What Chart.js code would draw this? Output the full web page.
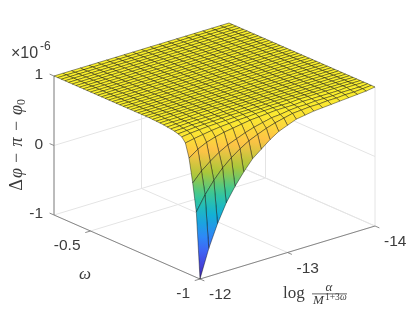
<!DOCTYPE html>
<html>
<head>
<meta charset="utf-8">
<style>
html, body { margin: 0; padding: 0; background: #fff; }
canvas { display: block; }
</style>
<script src="https://cdn.jsdelivr.net/npm/chart.js@4"></script>
</head>
<body>
<canvas id="surfaceChart" width="415" height="312"></canvas>
<script>
var omegaTicks = [-1, -0.5];
var logTicks = [-12, -13, -14];
var zTicks = [-1, 0, 1];

var omegaLimits = [-1, -0.3333];
var logLimits = [-12, -14];
var zLimits = [-1, 1];

var omegaGrid = [-1, -0.9833, -0.9667, -0.95, -0.9333, -0.9167, -0.9, -0.8833, -0.8667, -0.85, -0.8333, -0.8167, -0.8, -0.7833,
  -0.7667, -0.75, -0.7333, -0.7167, -0.7, -0.6833, -0.6667, -0.65, -0.6333, -0.6167, -0.6, -0.5833, -0.5667, -0.55, -0.5333,
  -0.5167, -0.5, -0.4833, -0.4667, -0.45, -0.4333, -0.4167, -0.4, -0.3833, -0.3667, -0.35, -0.3333];
var logGrid = [-12, -12.1, -12.2, -12.3, -12.4, -12.5, -12.6, -12.7, -12.8, -12.9, -13,
  -13.1, -13.2, -13.3, -13.4, -13.5, -13.6, -13.7, -13.8, -13.9, -14];

var plateau = [1, 1, 1, 1, 1, 1, 1, 1, 1, 1, 1, 1, 1, 1, 1, 1, 1, 1, 1, 1, 1];
// one row per omegaGrid value, one column per logGrid value
var zRows = [
  [-1, -0.6, -0.28, -0.02, 0.18, 0.35, 0.5, 0.6, 0.7, 0.78, 0.83, 0.88, 0.9, 0.92, 0.93, 0.94, 0.95, 0.96, 0.97, 0.98, 1],
  [-0.06, 0.15, 0.32, 0.46, 0.57, 0.66, 0.735, 0.79, 0.84, 0.88, 0.91, 0.94, 0.95, 0.96, 0.96, 0.97, 0.97, 0.98, 0.98, 0.99, 1],
  [0.335, 0.47, 0.57, 0.66, 0.73, 0.78, 0.83, 0.87, 0.9, 0.93, 0.94, 0.96, 0.97, 0.97, 0.98, 0.98, 0.98, 0.99, 0.99, 0.99, 1],
  [0.67, 0.76, 0.82, 0.86, 0.89, 0.91, 0.93, 0.95, 0.96, 0.97, 0.98, 0.98, 0.98, 0.99, 0.99, 0.99, 0.99, 0.99, 1, 1, 1],
  [0.865, 0.89, 0.91, 0.93, 0.945, 0.955, 0.965, 0.97, 0.98, 0.985, 0.99, 0.99, 0.99, 1, 1, 1, 1, 1, 1, 1, 1],
  [0.93, 0.945, 0.955, 0.965, 0.97, 0.975, 0.98, 0.985, 0.99, 0.99, 0.995, 0.995, 1, 1, 1, 1, 1, 1, 1, 1, 1],
  [0.95, 0.96, 0.97, 0.975, 0.98, 0.985, 0.99, 0.99, 0.99, 0.995, 0.995, 1, 1, 1, 1, 1, 1, 1, 1, 1, 1],
  [0.965, 0.97, 0.98, 0.98, 0.985, 0.99, 0.99, 0.995, 0.995, 1, 1, 1, 1, 1, 1, 1, 1, 1, 1, 1, 1],
  [0.975, 0.98, 0.985, 0.99, 0.99, 0.99, 0.995, 0.995, 1, 1, 1, 1, 1, 1, 1, 1, 1, 1, 1, 1, 1],
  [0.98, 0.985, 0.99, 0.99, 0.995, 0.995, 1, 1, 1, 1, 1, 1, 1, 1, 1, 1, 1, 1, 1, 1, 1],
  [0.988, 0.99, 0.99, 0.995, 1, 1, 1, 1, 1, 1, 1, 1, 1, 1, 1, 1, 1, 1, 1, 1, 1],
  [0.992, 0.995, 0.995, 1, 1, 1, 1, 1, 1, 1, 1, 1, 1, 1, 1, 1, 1, 1, 1, 1, 1],
  [0.995, 0.995, 1, 1, 1, 1, 1, 1, 1, 1, 1, 1, 1, 1, 1, 1, 1, 1, 1, 1, 1],
  [0.997, 1, 1, 1, 1, 1, 1, 1, 1, 1, 1, 1, 1, 1, 1, 1, 1, 1, 1, 1, 1],
  plateau, plateau, plateau, plateau, plateau, plateau, plateau, plateau, plateau,
  plateau, plateau, plateau, plateau, plateau, plateau, plateau, plateau, plateau,
  plateau, plateau, plateau, plateau, plateau, plateau, plateau, plateau, plateau
];

var parula = [[62, 38, 168], [72, 82, 244], [46, 135, 247], [18, 177, 214], [55, 200, 151], [171, 199, 57], [254, 195, 70], [250, 240, 45]];

// fixed camera of the 3d axes, result is in the 0-415 / 0-312 units of the flat scales
function project(omega, logA, z){
  var b = (omega - omegaLimits[0]) / (omegaLimits[1] - omegaLimits[0]);
  var s = (logA - logLimits[0]) / (logLimits[1] - logLimits[0]);
  return {
    x: 200 + 175 * s - 146 * b,
    y: 279 - 53 * s - 64 * b - 69.5 * (z - zLimits[0])
  };
}

function colourFor(z){
  var v = (z - zLimits[0]) / (zLimits[1] - zLimits[0]) * (parula.length - 1);
  var k = Math.min(Math.floor(v), parula.length - 2);
  var f = v - k;
  var a = parula[k], c = parula[k + 1];
  return 'rgb(' + Math.round(a[0] + (c[0] - a[0]) * f) + ',' + Math.round(a[1] + (c[1] - a[1]) * f) + ',' + Math.round(a[2] + (c[2] - a[2]) * f) + ')';
}

function quadDataset(i, j){
  var zs = [zRows[i][j], zRows[i][j + 1], zRows[i + 1][j + 1], zRows[i + 1][j]];
  var pts = [
    project(omegaGrid[i], logGrid[j], zs[0]),
    project(omegaGrid[i], logGrid[j + 1], zs[1]),
    project(omegaGrid[i + 1], logGrid[j + 1], zs[2]),
    project(omegaGrid[i + 1], logGrid[j], zs[3])
  ];
  var hi = 0, lo = 0;
  for(var k = 1; k < 4; k++){
    if(zs[k] > zs[hi]) hi = k;
    if(zs[k] < zs[lo]) lo = k;
  }
  return {
    data: [pts[0], pts[1], pts[2], pts[3], pts[0]],
    showLine: true, fill: 'shape', pointRadius: 0,
    borderColor: 'rgba(0,0,0,0.75)', borderWidth: 0.55,
    backgroundColor: function(c){
      if(zs[hi] - zs[lo] < 0.002) return colourFor(zs[hi]);
      var sx = c.chart.scales.x, sy = c.chart.scales.y;
      var x0 = sx.getPixelForValue(pts[hi].x), y0 = sy.getPixelForValue(pts[hi].y);
      var x1 = sx.getPixelForValue(pts[lo].x), y1 = sy.getPixelForValue(pts[lo].y);
      // scales have no size yet on the first pass
      if(!isFinite(x0 + y0 + x1 + y1)) return colourFor(zs[hi]);
      var g = c.chart.ctx.createLinearGradient(x0, y0, x1, y1);
      for(var n = 0; n <= 6; n++) g.addColorStop(n / 6, colourFor(zs[hi] + (zs[lo] - zs[hi]) * n / 6));
      return g;
    }
  };
}

function lineDataset(a, b, colour, width){
  return { data: [a, b], showLine: true, fill: false, pointRadius: 0, borderColor: colour, borderWidth: width };
}

var datasets = [];
// chart.js paints the first dataset last, so front quads go in first
for(var i = 0; i < omegaGrid.length - 1; i++){
  for(var j = 0; j < logGrid.length - 1; j++) datasets.push(quadDataset(i, j));
}

var omegaFront = omegaLimits[0], omegaBack = omegaLimits[1];
var logFront = logLimits[0], logBack = logLimits[1];
var zLow = zLimits[0], zHigh = zLimits[1];
var axisColour = '#6e6e6e', gridColour = '#e4e4e4';

// the three visible axes and their tick marks
datasets.push(lineDataset(project(omegaBack, logFront, zLow), project(omegaBack, logFront, zHigh), '#858585', 1));
datasets.push(lineDataset(project(omegaFront, logFront, zLow), project(omegaBack, logFront, zLow), axisColour, 0.8));
datasets.push(lineDataset(project(omegaFront, logFront, zLow), project(omegaFront, logBack, zLow), axisColour, 0.8));
for(var t = 0; t < zTicks.length; t++){
  datasets.push(lineDataset(project(omegaBack, logFront, zTicks[t]), project(omegaBack + 0.02, logFront, zTicks[t]), axisColour, 0.8));
}
for(var t = 0; t < omegaTicks.length; t++){
  datasets.push(lineDataset(project(omegaTicks[t], logFront, zLow), project(omegaTicks[t], logFront + 0.06, zLow), axisColour, 0.8));
}
for(var t = 0; t < logTicks.length; t++){
  datasets.push(lineDataset(project(omegaFront, logTicks[t], zLow), project(omegaFront - 0.02, logTicks[t], zLow), axisColour, 0.8));
}

// walls and floor behind the surface
for(var t = 0; t < zTicks.length; t++){
  datasets.push(lineDataset(project(omegaBack, logFront, zTicks[t]), project(omegaBack, logBack, zTicks[t]), gridColour, 1));
  datasets.push(lineDataset(project(omegaBack, logBack, zTicks[t]), project(omegaFront, logBack, zTicks[t]), gridColour, 1));
}
for(var t = 0; t < omegaTicks.length; t++){
  datasets.push(lineDataset(project(omegaTicks[t], logFront, zLow), project(omegaTicks[t], logBack, zLow), gridColour, 1));
  datasets.push(lineDataset(project(omegaTicks[t], logBack, zLow), project(omegaTicks[t], logBack, zHigh), gridColour, 1));
}
for(var t = 0; t < logTicks.length; t++){
  datasets.push(lineDataset(project(omegaFront, logTicks[t], zLow), project(omegaBack, logTicks[t], zLow), gridColour, 1));
  datasets.push(lineDataset(project(omegaBack, logTicks[t], zLow), project(omegaBack, logTicks[t], zHigh), gridColour, 1));
}

function putText(ctx, txt, x, y, font, align){
  ctx.font = font;
  ctx.textAlign = align || 'left';
  ctx.fillText(txt, x, y);
}

var axisText = {
  id: 'axisText',
  afterDraw: function(chart){
    var ctx = chart.ctx;
    var sx = chart.scales.x, sy = chart.scales.y;
    var tickFont = '15.5px "Liberation Sans"';
    ctx.save();
    ctx.fillStyle = '#3c3c3c';
    ctx.textBaseline = 'alphabetic';

    for(var t = 0; t < zTicks.length; t++){
      var p = project(omegaBack, logFront, zTicks[t]);
      putText(ctx, String(zTicks[t]), sx.getPixelForValue(p.x) - 11, sy.getPixelForValue(p.y) + 3, tickFont, 'right');
    }
    for(var t = 0; t < omegaTicks.length; t++){
      var p = project(omegaTicks[t], logFront, zLow);
      putText(ctx, String(omegaTicks[t]), sx.getPixelForValue(p.x) - 10, sy.getPixelForValue(p.y) + 19, tickFont, 'right');
    }
    for(var t = 0; t < logTicks.length; t++){
      var p = project(omegaFront, logTicks[t], zLow);
      putText(ctx, String(logTicks[t]), sx.getPixelForValue(p.x) + 9, sy.getPixelForValue(p.y) + 20, tickFont);
    }

    // exponent above the z axis
    putText(ctx, '\u00d710', 11, 58, '16px "Liberation Sans"');
    putText(ctx, '-6', 40, 50, '12px "Liberation Sans"');

    putText(ctx, '\u03c9', 85, 279, 'italic 17px "Liberation Serif"', 'center');

    // log alpha / M^(1+3w)
    putText(ctx, 'log', 283, 298, '17px "Liberation Serif"');
    putText(ctx, '\u03b1', 329, 291, 'italic 13px "Liberation Serif"', 'center');
    putText(ctx, 'M', 313, 304, 'italic 13px "Liberation Serif"');
    putText(ctx, '1+3', 325, 300, '9.5px "Liberation Serif"');
    putText(ctx, '\u03c9', 340, 300, 'italic 9.5px "Liberation Serif"');
    ctx.fillRect(312, 293.5, 35, 0.8);

    // z label, rotated
    ctx.save();
    ctx.translate(22, 145);
    ctx.rotate(-Math.PI / 2);
    putText(ctx, '\u0394', -40, 0, '18px "Liberation Serif"', 'center');
    putText(ctx, '\u03c6', -28, 0, 'italic 18px "Liberation Serif"', 'center');
    putText(ctx, '\u2212', -13, 0, '18px "Liberation Serif"', 'center');
    putText(ctx, '\u03c0', 3, 0, 'italic 18px "Liberation Serif"', 'center');
    putText(ctx, '\u2212', 19, 0, '18px "Liberation Serif"', 'center');
    putText(ctx, '\u03c6', 35, 0, 'italic 18px "Liberation Serif"', 'center');
    putText(ctx, '0', 43, 3, '12px "Liberation Serif"', 'center');
    ctx.restore();

    ctx.restore();
  }
};

new Chart(document.getElementById('surfaceChart').getContext('2d'), {
  type: 'scatter',
  data: { datasets: datasets },
  plugins: [axisText],
  options: {
    responsive: false, animation: false, events: [],
    layout: { padding: 0 },
    scales: {
      x: { type: 'linear', display: false, min: 0, max: 415 },
      y: { type: 'linear', display: false, min: 0, max: 312, reverse: true }
    },
    plugins: { legend: { display: false }, tooltip: { enabled: false } }
  }
});
</script>
</body>
</html>
